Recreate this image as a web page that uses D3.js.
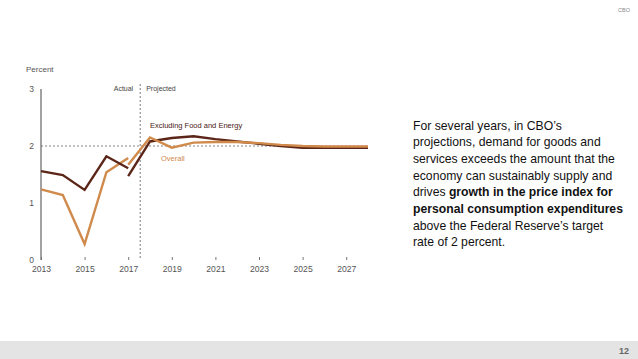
<!DOCTYPE html>
<html><head><meta charset="utf-8">
<script src="https://cdn.jsdelivr.net/npm/d3@7"></script>
<style>
body{margin:0;background:#fff;}
svg{display:block;}
</style></head>
<body>
<svg id="c" width="638" height="359"></svg>
<script>
const actualYears = [2013, 2014, 2015, 2016, 2017];
const overallActual = [1.24, 1.14, 0.28, 1.54, 1.79];
const coreActual = [1.56, 1.49, 1.23, 1.82, 1.61];
const projYears = [2017, 2018, 2019, 2020, 2021, 2022, 2023, 2024, 2025, 2026, 2027, 2028];
const overallProj = [1.67, 2.15, 1.97, 2.06, 2.07, 2.07, 2.05, 2.02, 2.0, 1.99, 1.99, 1.99];
const coreProj = [1.47, 2.08, 2.14, 2.17, 2.12, 2.08, 2.04, 2.0, 1.97, 1.97, 1.97, 1.97];
const xTickYears = [2013, 2015, 2017, 2019, 2021, 2023, 2025, 2027];
const yTicks = [0, 1, 2, 3];

const svg = d3.select("#c");
const narrow = "'Liberation Sans Narrow','Liberation Sans',Arial,sans-serif";
const x = d3.scaleLinear().domain([2013, 2028]).range([41, 368]);
const y = d3.scaleLinear().domain([0, 3]).range([260, 89]);

// footer band
svg.append("rect").attr("x",0).attr("y",341).attr("width",638).attr("height",18).attr("fill","#e4e4e4");
svg.append("text").attr("x",629).attr("y",354).attr("text-anchor","end").attr("font-family","'Liberation Sans',Arial").attr("font-weight","bold").attr("font-size",9).attr("fill","#666").text("12");
svg.append("text").attr("x",630).attr("y",12).attr("text-anchor","end").attr("font-family","'Liberation Sans',Arial").attr("font-size",5.5).attr("fill","#888").text("CBO");

// y label
svg.append("text").attr("x",26).attr("y",72).attr("font-family",narrow).attr("font-size",8).attr("fill","#555").text("Percent");

// y axis line
svg.append("line").attr("x1",41).attr("x2",41).attr("y1",y(3)).attr("y2",y(0)).attr("stroke","#444").attr("stroke-width",1);
svg.selectAll(".yt").data(yTicks).enter().append("text")
  .attr("x",34).attr("y",d=>y(d)+3).attr("text-anchor","end")
  .attr("font-family",narrow).attr("font-size",8.5).attr("fill","#555").text(d=>d);

// x axis via d3 axis
const xAxis = d3.axisBottom(x).tickValues(xTickYears).tickFormat(d3.format("d")).tickSize(3).tickPadding(6);
const gx = svg.append("g").attr("transform","translate(0,257)").call(xAxis);
gx.select(".domain").remove();
gx.selectAll(".tick line").attr("stroke","#777");
gx.selectAll(".tick text").attr("font-family",narrow).attr("font-size",8.6).attr("fill","#555");

// reference lines
svg.append("line").attr("x1",x(2013)).attr("x2",x(2028)).attr("y1",y(2)).attr("y2",y(2))
  .attr("stroke","#666").attr("stroke-width",0.8).attr("stroke-dasharray","2,2");
svg.append("line").attr("x1",x(2017.55)).attr("x2",x(2017.55)).attr("y1",84).attr("y2",y(0))
  .attr("stroke","#555").attr("stroke-width",0.8).attr("stroke-dasharray","2,2");
svg.append("text").attr("x",x(2017.55)-7).attr("y",91).attr("text-anchor","end").attr("font-family",narrow).attr("font-size",7).attr("fill","#444").text("Actual");
svg.append("text").attr("x",x(2017.55)+6).attr("y",91).attr("font-family",narrow).attr("font-size",7).attr("fill","#444").text("Projected");

const line = d3.line().x(d=>x(d[0])).y(d=>y(d[1]));
const light = "#d08a4c", dark = "#5b2618";
function draw(yrs, vals, col){
  svg.append("path").datum(yrs.map((t,i)=>[t,vals[i]])).attr("d",line)
    .attr("fill","none").attr("stroke",col).attr("stroke-width",2.4).attr("stroke-linejoin","miter");
}
draw(actualYears, overallActual, light);
draw(actualYears, coreActual, dark);
draw(projYears, coreProj, dark);
draw(projYears, overallProj, light);

svg.append("text").attr("x",150).attr("y",128).attr("font-family",narrow).attr("font-size",7.5).attr("fill","#4a2015").text("Excluding Food and Energy");
svg.append("text").attr("x",161).attr("y",161).attr("font-family",narrow).attr("font-size",7.5).attr("fill",light).text("Overall");

// right text
const lines = [
  [["For several years, in CBO\u2019s",false]],
  [["projections, demand for goods and",false]],
  [["services exceeds the amount that the",false]],
  [["economy can sustainably supply and",false]],
  [["drives ",false],["growth in the price index for",true]],
  [["personal consumption expenditures",true]],
  [["above the Federal Reserve\u2019s target",false]],
  [["rate of 2 percent.",false]]
];
const tg = svg.append("text").attr("font-family","'Liberation Sans',Arial,sans-serif").attr("font-size",12.2).attr("fill","#111");
lines.forEach((ln,i)=>{
  ln.forEach((seg,j)=>{
    const ts = tg.append("tspan").text(seg[0]);
    if(j===0) ts.attr("x",413).attr("y",129.5+i*16.7);
    if(seg[1]) ts.attr("font-weight","bold");
  });
});
</script>
</body></html>
